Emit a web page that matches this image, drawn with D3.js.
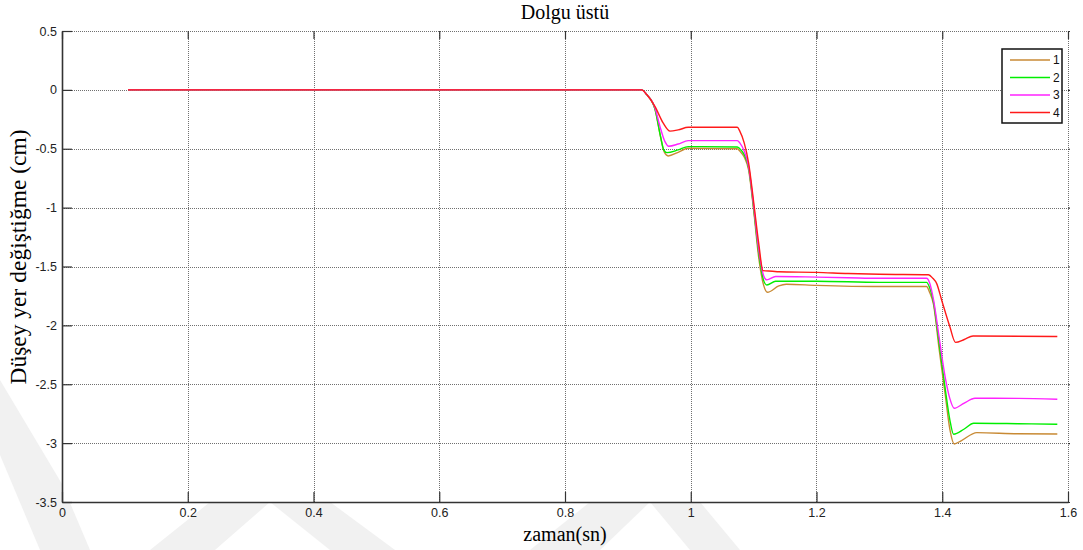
<!DOCTYPE html>
<html>
<head>
<meta charset="utf-8">
<script src="https://cdn.jsdelivr.net/npm/d3@7"></script>
<style>
  html, body { margin: 0; padding: 0; background: #fff; }
  svg { display: block; }
</style>
</head>
<body>
<svg id="chart" width="1083" height="550"></svg>
<script>
// Dolgu üstü — vertical displacement over time for four cases
const seriesNames = ["1", "2", "3", "4"];
const seriesColors = ["#c88a34", "#00ee00", "#ff22ff", "#ff1a1a"];

const xTicks = [0, 0.2, 0.4, 0.6, 0.8, 1, 1.2, 1.4, 1.6];
const yTicks = [0.5, 0, -0.5, -1, -1.5, -2, -2.5, -3, -3.5];

// [time (sn), displacement (cm)]
const series1 = [[0.105,0],[0.922,0],[0.93,-0.04],[0.943,-0.16],[0.952,-0.40],[0.958,-0.53],[0.964,-0.561],[0.98,-0.53],[0.996,-0.496],[1.074,-0.5],[1.078,-0.52],[1.085,-0.57],[1.092,-0.68],[1.1,-1.02],[1.108,-1.42],[1.116,-1.66],[1.122,-1.719],[1.14,-1.665],[1.152,-1.651],[1.2,-1.66],[1.3,-1.67],[1.375,-1.67],[1.38,-1.72],[1.386,-1.82],[1.395,-2.2],[1.405,-2.6],[1.412,-2.88],[1.419,-3.007],[1.43,-2.98],[1.455,-2.911],[1.52,-2.92],[1.583,-2.922]];
const series2 = [[0.105,0],[0.922,0],[0.93,-0.04],[0.943,-0.16],[0.952,-0.397],[0.957,-0.51],[0.962,-0.533],[0.98,-0.51],[0.996,-0.482],[1.074,-0.485],[1.078,-0.5],[1.085,-0.55],[1.092,-0.66],[1.1,-1.0],[1.108,-1.38],[1.116,-1.62],[1.121,-1.657],[1.135,-1.625],[1.2,-1.625],[1.3,-1.635],[1.375,-1.635],[1.38,-1.68],[1.386,-1.8],[1.395,-2.15],[1.405,-2.55],[1.412,-2.8],[1.418,-2.925],[1.435,-2.88],[1.45,-2.831],[1.52,-2.835],[1.583,-2.84]];
const series3 = [[0.105,0],[0.922,0],[0.93,-0.04],[0.943,-0.15],[0.951,-0.31],[0.959,-0.44],[0.965,-0.479],[0.98,-0.46],[0.996,-0.431],[1.074,-0.431],[1.078,-0.45],[1.085,-0.52],[1.092,-0.65],[1.1,-0.98],[1.108,-1.35],[1.116,-1.58],[1.121,-1.614],[1.135,-1.585],[1.2,-1.59],[1.25,-1.595],[1.3,-1.6],[1.375,-1.6],[1.38,-1.64],[1.386,-1.78],[1.395,-2.1],[1.405,-2.45],[1.412,-2.62],[1.419,-2.704],[1.435,-2.66],[1.452,-2.619],[1.52,-2.62],[1.583,-2.627]];
const series4 = [[0.105,0],[0.922,0],[0.93,-0.04],[0.943,-0.14],[0.956,-0.28],[0.967,-0.35],[0.98,-0.34],[0.996,-0.318],[1.074,-0.318],[1.078,-0.35],[1.085,-0.45],[1.092,-0.62],[1.1,-0.95],[1.108,-1.3],[1.115,-1.535],[1.13,-1.54],[1.14,-1.545],[1.2,-1.55],[1.25,-1.56],[1.3,-1.566],[1.378,-1.57],[1.385,-1.6],[1.391,-1.643],[1.399,-1.784],[1.412,-2.01],[1.421,-2.144],[1.435,-2.12],[1.449,-2.09],[1.583,-2.095]];

const allSeries = [series1, series2, series3, series4];

const svg = d3.select("#chart");
const plot = { left: 62, right: 1068, top: 31, bottom: 502 };

// faint page background pattern behind the figure
const bg = svg.append("g").attr("fill", "#f1f1f1");
[
  [[0,380],[62,484],[90,550],[40,550],[0,455]],
  [[150,550],[210,502],[270,502],[215,550]],
  [[270,502],[330,502],[395,550],[330,550]],
  [[530,550],[590,502],[650,502],[600,550]],
  [[650,502],[700,502],[740,550],[690,550]]
].forEach(p => bg.append("polygon").attr("points", p.map(d => d.join(",")).join(" ")));

const x = d3.scaleLinear().domain([0, 1.6]).range([plot.left, plot.right]);
const y = d3.scaleLinear().domain([-3.5, 0.5]).range([plot.bottom, plot.top]);

// tick labels use a plain hyphen for negatives
const fmt = d => String(d);

// axes background
svg.append("rect")
  .attr("x", plot.left).attr("y", plot.top)
  .attr("width", plot.right - plot.left).attr("height", plot.bottom - plot.top)
  .attr("fill", "#fff");

// dotted grid
const grid = svg.append("g")
  .attr("stroke", "#707070").attr("stroke-width", 1)
  .attr("stroke-dasharray", "1,1").attr("shape-rendering", "crispEdges");
xTicks.filter(t => t !== 0).forEach(t => {
  grid.append("line").attr("x1", Math.round(x(t)) + 0.5).attr("x2", Math.round(x(t)) + 0.5)
    .attr("y1", plot.top).attr("y2", plot.bottom);
});
yTicks.filter(t => t !== -3.5).forEach(t => {
  grid.append("line").attr("y1", Math.round(y(t)) + 0.5).attr("y2", Math.round(y(t)) + 0.5)
    .attr("x1", plot.left).attr("x2", plot.right);
});

// bottom axis with inward ticks
const xAxis = d3.axisBottom(x).tickValues(xTicks).tickSizeInner(-10).tickSizeOuter(0)
  .tickPadding(11).tickFormat(fmt);
const gx = svg.append("g").attr("transform", `translate(0,${plot.bottom})`).call(xAxis);
// left axis with inward ticks
const yAxis = d3.axisLeft(y).tickValues(yTicks).tickSizeInner(-10).tickSizeOuter(0)
  .tickPadding(5).tickFormat(fmt);
const gy = svg.append("g").attr("transform", `translate(${plot.left},0)`).call(yAxis);

[gx, gy].forEach(g => {
  g.select(".domain").attr("stroke", "#333").attr("stroke-width", 1.6);
  g.selectAll(".tick line").attr("stroke", "#333").attr("stroke-width", 1.2);
  g.selectAll(".tick text")
    .attr("fill", "#222")
    .style("font-family", "'Liberation Sans', Arial, sans-serif")
    .style("font-size", "12.5px");
});
gx.selectAll(".tick text").attr("dy", "0.35em");

// top and right tick marks
const topAxis = d3.axisTop(x).tickValues(xTicks).tickSizeInner(-8).tickSizeOuter(0).tickFormat("");
const gt = svg.append("g").attr("transform", `translate(0,${plot.top})`).call(topAxis);
gt.select(".domain").remove();
gt.selectAll(".tick line").attr("stroke", "#333").attr("stroke-width", 1.2);
const rightAxis = d3.axisRight(y).tickValues(yTicks).tickSizeInner(2).tickSizeOuter(0).tickFormat("");
const gr = svg.append("g").attr("transform", `translate(${plot.right},0)`).call(rightAxis);
gr.select(".domain").remove();
gr.selectAll(".tick line").attr("stroke", "#333").attr("stroke-width", 1.2);

// data lines
const line = d3.line()
  .x(d => x(d[0]))
  .y(d => y(d[1]))
  .curve(d3.curveMonotoneX);

svg.append("g").selectAll("path")
  .data(allSeries)
  .join("path")
  .attr("d", line)
  .attr("fill", "none")
  .attr("stroke", (d, i) => seriesColors[i])
  .attr("stroke-width", 1.4)
  .attr("stroke-linejoin", "round");

// title and axis labels
svg.append("text")
  .attr("x", (plot.left + plot.right) / 2).attr("y", 19)
  .attr("text-anchor", "middle")
  .style("font-family", "'Liberation Serif', 'Times New Roman', serif")
  .style("font-size", "20px")
  .text("Dolgu üstü");

svg.append("text")
  .attr("x", (plot.left + plot.right) / 2).attr("y", 541)
  .attr("text-anchor", "middle")
  .style("font-family", "'Liberation Serif', 'Times New Roman', serif")
  .style("font-size", "20px")
  .text("zaman(sn)");

svg.append("text")
  .attr("transform", "translate(26,257) rotate(-90)")
  .attr("text-anchor", "middle")
  .style("font-family", "'Liberation Serif', 'Times New Roman', serif")
  .style("font-size", "23.5px")
  .text("Düşey yer değiştiğme (cm)");

// legend
const legend = { x: 1002, y: 49, w: 60, h: 74 };
const lg = svg.append("g");
lg.append("rect")
  .attr("x", legend.x).attr("y", legend.y)
  .attr("width", legend.w).attr("height", legend.h)
  .attr("fill", "#fff").attr("stroke", "#111").attr("stroke-width", 1.5);
seriesNames.forEach((name, i) => {
  const yy = legend.y + 11 + i * 17.5;
  lg.append("line")
    .attr("x1", legend.x + 8).attr("x2", legend.x + 48)
    .attr("y1", yy).attr("y2", yy)
    .attr("stroke", seriesColors[i]).attr("stroke-width", 1.4);
  lg.append("text")
    .attr("x", legend.x + 51).attr("y", yy).attr("dy", "0.35em")
    .style("font-family", "'Liberation Sans', Arial, sans-serif")
    .style("font-size", "12px")
    .attr("fill", "#111")
    .text(name);
});
</script>
</body>
</html>
